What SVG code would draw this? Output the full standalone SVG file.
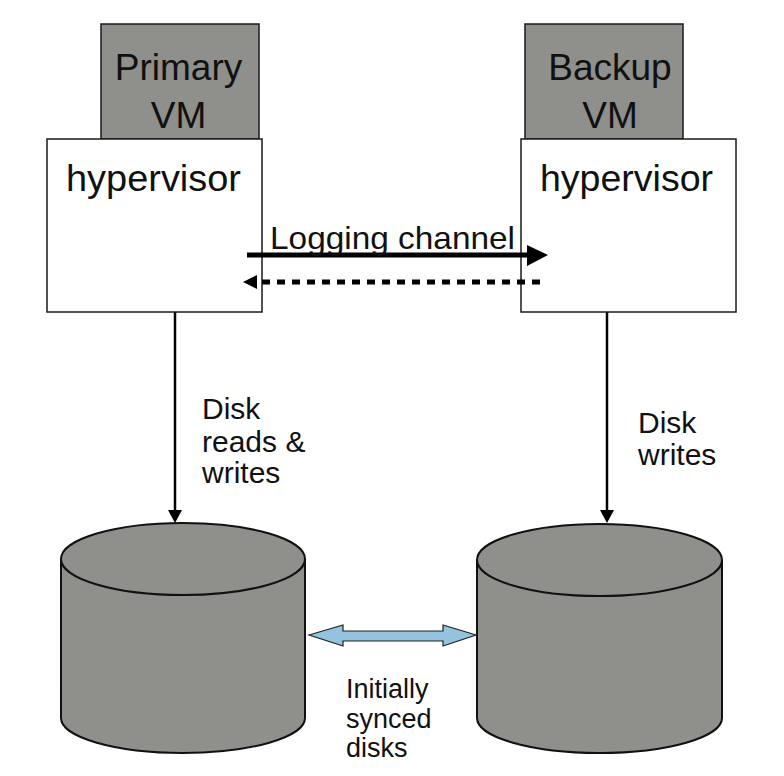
<svg xmlns="http://www.w3.org/2000/svg" width="784" height="776" viewBox="0 0 784 776">
<style>
  .vm { fill: #8f8f8b; stroke: #1a1a1a; stroke-width: 1.5; }
  .hv { fill: #ffffff; stroke: #1a1a1a; stroke-width: 1.5; }
  .disk { fill: #8f8f8b; stroke: #111; stroke-width: 2; }
  .disk-rim { fill: none; stroke: #111; stroke-width: 2; }
  text { font-family: "Liberation Sans", Arial, sans-serif; fill: #111; }
  .big { font-size: 37px; }
  .lbl { font-size: 30px; }
  .sm { font-size: 27px; }
</style>
<rect width="784" height="776" fill="#ffffff"/>

<g id="primary-vm">
  <rect class="vm" x="101" y="24" width="158" height="115"/>
  <text class="big" x="178.5" y="80" text-anchor="middle">Primary</text>
  <text class="big" x="178.5" y="128" text-anchor="middle">VM</text>
</g>
<g id="primary-hypervisor">
  <rect class="hv" x="47" y="139" width="215" height="173"/>
  <text class="big" x="153.5" y="191" text-anchor="middle" textLength="175" lengthAdjust="spacingAndGlyphs">hypervisor</text>
</g>

<g id="backup-vm">
  <rect class="vm" x="525" y="24" width="158" height="115"/>
  <text class="big" x="610" y="80" text-anchor="middle">Backup</text>
  <text class="big" x="610" y="128" text-anchor="middle">VM</text>
</g>
<g id="backup-hypervisor">
  <rect class="hv" x="521" y="139" width="215" height="173"/>
  <text class="big" x="626.5" y="191" text-anchor="middle" textLength="173" lengthAdjust="spacingAndGlyphs">hypervisor</text>
</g>

<g id="primary-disk">
  <path class="disk" d="M61,559 A122,36 0 0 1 305,559 L305,718 A122,35 0 0 1 61,718 Z"/>
  <path class="disk-rim" d="M61,559 A122,36 0 0 0 305,559"/>
</g>
<g id="backup-disk">
  <path class="disk" d="M477,560 A122.5,36 0 0 1 722,560 L722,718 A122.5,35 0 0 1 477,718 Z"/>
  <path class="disk-rim" d="M477,560 A122.5,36 0 0 0 722,560"/>
</g>

<g id="connectors">
  <line x1="247" y1="255" x2="528" y2="255" stroke="#000" stroke-width="5"/>
  <polygon points="527,245 548,255 527,266" fill="#000"/>
  <text x="270" y="249" font-size="32" textLength="245" lengthAdjust="spacingAndGlyphs">Logging channel</text>

  <line x1="540" y1="282" x2="256" y2="282" stroke="#000" stroke-width="5" stroke-dasharray="8 7"/>
  <polygon points="257,275 243,282 257,289" fill="#000"/>

  <line x1="175" y1="312" x2="175" y2="511" stroke="#000" stroke-width="2.5"/>
  <polygon points="168,510 182,510 175,523" fill="#000"/>
  <text class="lbl" x="202" y="419">Disk</text>
  <text class="lbl" x="202" y="452">reads &amp;</text>
  <text class="lbl" x="202" y="483">writes</text>

  <line x1="607" y1="312" x2="607" y2="511" stroke="#000" stroke-width="2.5"/>
  <polygon points="600,510 614,510 607,523" fill="#000"/>
  <text class="lbl" x="638" y="433">Disk</text>
  <text class="lbl" x="638" y="465">writes</text>

  <polygon points="309,635 343,625 343,631 443,631 443,625 476,635 443,646 443,641 343,641 343,646" fill="#93c3df" stroke="#222" stroke-width="1.2" stroke-linejoin="miter"/>
  <text class="sm" x="346" y="698">Initially</text>
  <text class="sm" x="346" y="728">synced</text>
  <text class="sm" x="346" y="757">disks</text>
</g>
</svg>
